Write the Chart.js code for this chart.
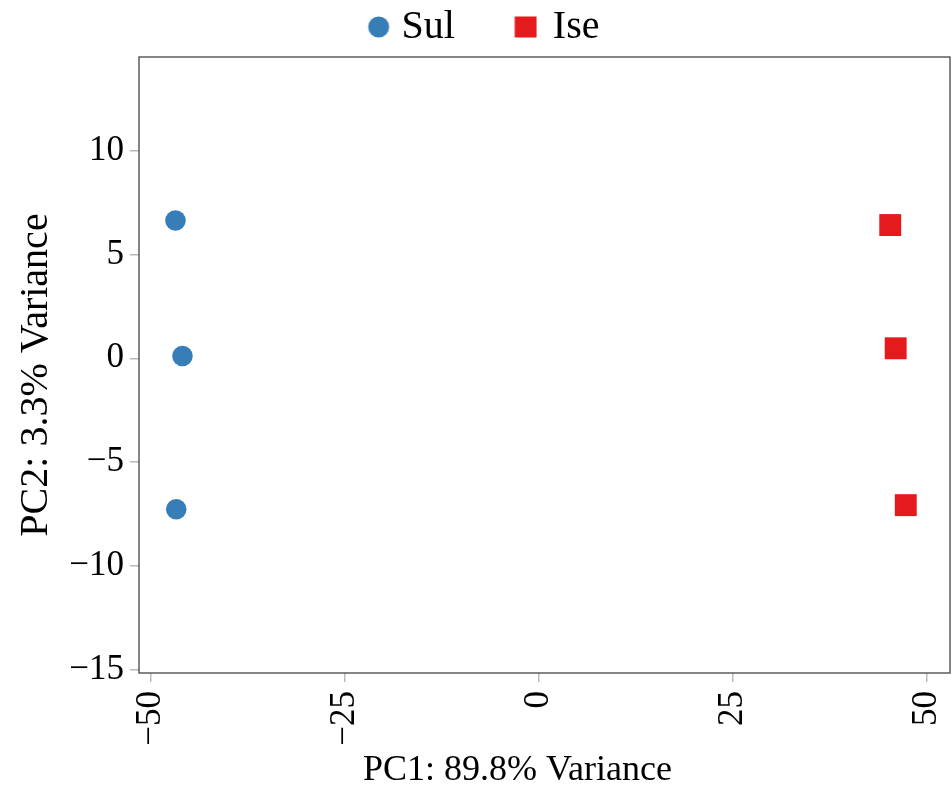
<!DOCTYPE html>
<html>
<head>
<meta charset="utf-8">
<title>PCA</title>
<script src="https://cdn.jsdelivr.net/npm/chart.js@4.4.1/dist/chart.umd.min.js"></script>
<style>
  html, body { margin: 0; padding: 0; background: #fff; }
  #wrap { width: 951px; height: 789px; }
</style>
</head>
<body>
<div id="wrap"><canvas id="pcaChart" width="951" height="789"></canvas></div>
<script>
// data
const sulPC1 = [-46.8, -45.9, -46.7];
const sulPC2 = [6.64, 0.11, -7.28];
const isePC1 = [45.3, 46.0, 47.3];
const isePC2 = [6.42, 0.48, -7.08];
const xTicks = [-50, -25, 0, 25, 50];
const yTicks = [-15, -10, -5, 0, 5, 10];

const blue = '#377EB8';
const red = '#E41A1C';
const serif = "'Liberation Serif', 'Times New Roman', serif";

function toPoints(xs, ys) {
    return xs.map((x, i) => ({ x: x, y: ys[i] }));
}

function minusLabel(v) {
    return v < 0 ? '\u2212' + Math.abs(v) : String(v);
}

// small marker images for the legend (lets the box sit a bit off centre)
function legendMarker(shape, color, off) {
    const half = 11;
    const c = document.createElement('canvas');
    c.width = 2 * (half + Math.abs(off)) + 2;
    c.height = 2 * half + 2;
    const g = c.getContext('2d');
    const cx = c.width / 2 + off;
    const cy = c.height / 2;
    g.fillStyle = color;
    if (shape === 'circle') {
        g.beginPath();
        g.arc(cx, cy, 10.5, 0, Math.PI * 2);
        g.fill();
    } else {
        g.fillRect(cx - 11, cy - 10.5, 22, 21);
    }
    return c;
}

const plotBox = {
    id: 'plotBox',
    beforeDatasetsDraw(chart) {
        const a = chart.chartArea;
        const ctx = chart.ctx;
        ctx.save();
        ctx.strokeStyle = '#444';
        ctx.lineWidth = 1.3;
        ctx.strokeRect(a.left, a.top, a.right - a.left, a.bottom - a.top);
        ctx.restore();
    }
};

const markers = [legendMarker('circle', blue, 12.7), legendMarker('rect', red, 8.3)];

new Chart(document.getElementById('pcaChart'), {
    type: 'scatter',
    data: {
        datasets: [{
            label: 'Sul',
            data: toPoints(sulPC1, sulPC2),
            pointStyle: 'circle',
            pointRadius: 10.3,
            backgroundColor: blue,
            borderColor: blue,
            borderWidth: 0
        }, {
            label: 'Ise',
            data: toPoints(isePC1, isePC2),
            pointStyle: 'rect',
            pointRadius: 15.5,
            backgroundColor: red,
            borderColor: red,
            borderWidth: 0
        }]
    },
    options: {
        responsive: false,
        animation: false,
        devicePixelRatio: 1,
        layout: { autoPadding: false, padding: { right: 1 } },
        plugins: {
            tooltip: { enabled: false },
            legend: {
                position: 'top',
                labels: {
                    usePointStyle: true,
                    pointStyleWidth: 31,
                    padding: 7,
                    color: '#000',
                    font: { family: serif, size: 40 },
                    generateLabels: (chart) => chart.data.datasets.map((ds, i) => ({
                        text: i === 0 ? ds.label + '    ' : ds.label,
                        pointStyle: markers[i],
                        fillStyle: ds.backgroundColor,
                        strokeStyle: ds.backgroundColor,
                        lineWidth: 0,
                        hidden: false,
                        datasetIndex: i
                    }))
                }
            }
        },
        scales: {
            x: {
                type: 'linear',
                min: -51.5,
                max: 53,
                afterBuildTicks: (s) => { s.ticks = xTicks.map(v => ({ value: v })); },
                afterFit: (s) => {
                    s.height = 116;
                    s.paddingLeft = 0;
                    s.paddingRight = 0;
                },
                grid: { drawOnChartArea: false, drawTicks: true, tickLength: 9, color: '#bbb', lineWidth: 1.5 },
                border: { display: false },
                ticks: {
                    autoSkip: false,
                    minRotation: 90,
                    maxRotation: 90,
                    padding: 9,
                    color: '#000',
                    font: { family: serif, size: 35 },
                    callback: minusLabel
                },
                title: {
                    display: true,
                    text: 'PC1: 89.8% Variance      ',
                    color: '#000',
                    font: { family: serif, size: 36, lineHeight: 1 },
                    padding: { top: 0, bottom: 0 }
                }
            },
            y: {
                type: 'linear',
                min: -15.17,
                max: 14.52,
                afterBuildTicks: (s) => { s.ticks = yTicks.map(v => ({ value: v })); },
                afterFit: (s) => {
                    s.width = 139;
                    s.paddingTop = 0;
                    s.paddingBottom = 0;
                },
                grid: { drawOnChartArea: false, drawTicks: true, tickLength: 9, color: '#bbb', lineWidth: 1.5 },
                border: { display: false },
                ticks: {
                    padding: 6,
                    color: '#000',
                    font: { family: serif, size: 35 },
                    callback: minusLabel
                },
                title: {
                    display: true,
                    text: 'PC2: 3.3% Variance  ',
                    color: '#000',
                    font: { family: serif, size: 40, lineHeight: 1.2 },
                    padding: { top: 12, bottom: 0 }
                }
            }
        }
    },
    plugins: [plotBox]
});
</script>
</body>
</html>
